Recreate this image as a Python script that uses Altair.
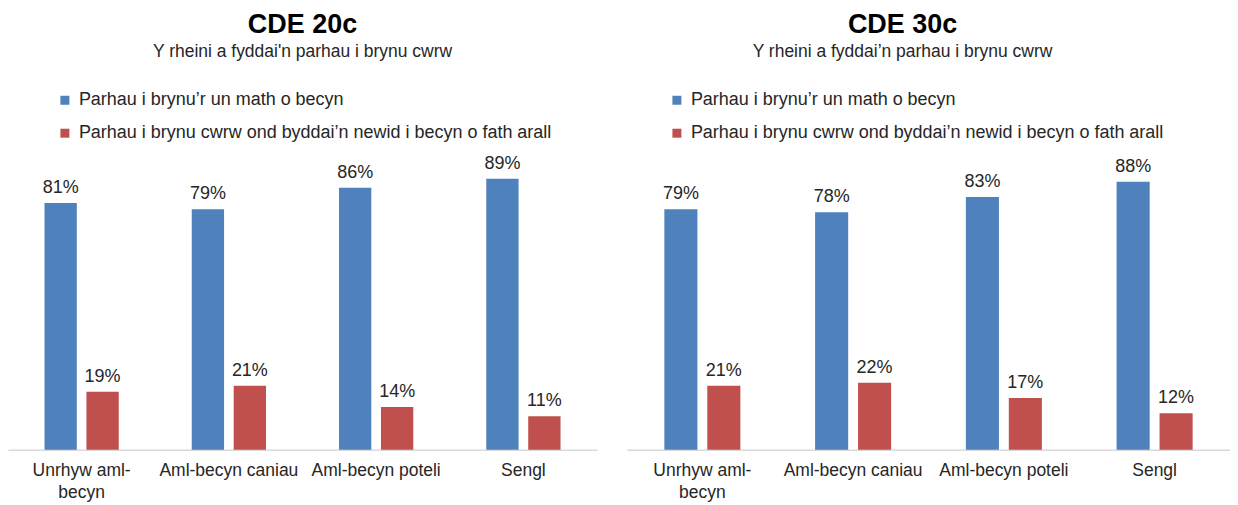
import altair as alt
import pandas as pd

categories = ["Unrhyw aml-becyn", "Aml-becyn caniau", "Aml-becyn poteli", "Sengl"]
series = [
    "Parhau i brynu’r un math o becyn",
    "Parhau i brynu cwrw ond byddai’n newid i becyn o fath arall",
]
same_20c = [81, 79, 86, 89]
switch_20c = [19, 21, 14, 11]
same_30c = [79, 78, 83, 88]
switch_30c = [21, 22, 17, 12]
title_20c = "CDE 20c"
title_30c = "CDE 30c"
subtitle_20c = "Y rheini a fyddai'n parhau i brynu cwrw"
subtitle_30c = "Y rheini a fyddai’n parhau i brynu cwrw"

BLUE = "#4F81BD"
RED = "#C0504D"
FONT = "Liberation Sans"
TXT = "#262626"


def panel(same, switch, title, sub, width, legend_x, title_dx):
    df = pd.DataFrame({
        "cat": categories * 2,
        "series": [series[0]] * len(categories) + [series[1]] * len(categories),
        "value": same + switch,
    })
    base = alt.Chart(df).transform_calculate(
        label="datum.value + '%'"
    ).encode(
        x=alt.X(
            "cat:N", sort=categories,
            scale=alt.Scale(paddingInner=0, paddingOuter=0),
            axis=alt.Axis(
                title=None, labelAngle=0, ticks=False, domainColor="#D9D9D9",
                domainWidth=1.5, labelFontSize=17.5, labelColor=TXT, labelFont=FONT,
                labelPadding=12, labelLineHeight=22, labelLimit=0,
                labelExpr="datum.label == 'Unrhyw aml-becyn' ? ['Unrhyw aml-', 'becyn'] : datum.label",
            ),
        ),
        xOffset=alt.XOffset("series:N", sort=series,
                            scale=alt.Scale(paddingInner=0.23, paddingOuter=0.87)),
        y=alt.Y("value:Q", scale=alt.Scale(domain=[0, 100]), axis=None),
    )
    bars = base.mark_bar().encode(
        color=alt.Color(
            "series:N", sort=series,
            scale=alt.Scale(domain=series, range=[BLUE, RED]),
            legend=alt.Legend(
                title=None, orient="none", legendX=legend_x, legendY=-54,
                direction="vertical", symbolType="square", symbolSize=81,
                symbolStrokeWidth=0, labelFontSize=18, labelFont=FONT,
                labelColor=TXT, rowPadding=15, labelLimit=0, labelOffset=5,
                padding=0,
            ),
        )
    )
    labels = base.mark_text(
        dy=-10, baseline="alphabetic", fontSize=18, font=FONT, color=TXT
    ).encode(text="label:N")
    return alt.layer(bars, labels).properties(
        width=width, height=305,
        title=alt.TitleParams(
            text=title, subtitle=sub, fontSize=27, fontWeight="bold", font=FONT,
            color="black", subtitleFontSize=17.5, subtitleFont=FONT,
            subtitleColor=TXT, subtitlePadding=4, anchor="middle",
            offset=30, dx=title_dx,
        ),
    )


left = panel(same_20c, switch_20c, title_20c, subtitle_20c, 590, 48, 0)
right = panel(same_30c, switch_30c, title_30c, subtitle_30c, 604, 41, -26)

chart = alt.hconcat(left, right, spacing=30).resolve_scale(
    color="independent", x="independent", xOffset="independent", y="independent"
).resolve_legend(color="independent").configure_view(stroke=None).properties(
    padding={"top": 2, "left": 0, "right": 0, "bottom": 0}, background="white"
)

chart.save("out.html", embed_options={"renderer": "svg", "actions": False})
